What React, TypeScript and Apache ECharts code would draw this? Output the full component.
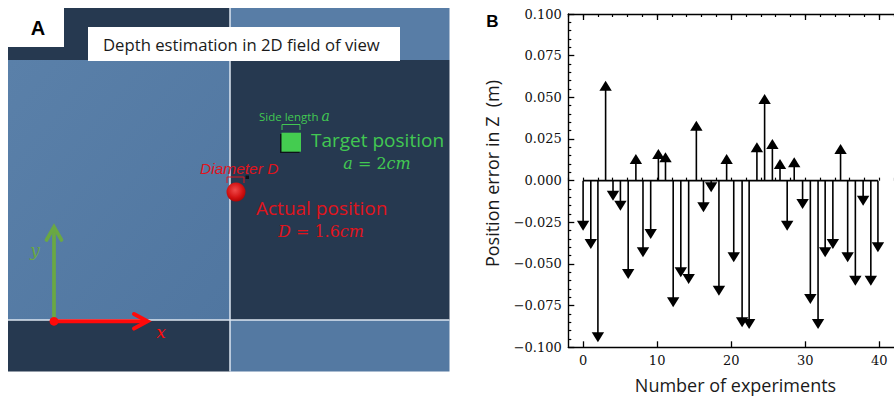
import React, { useEffect, useRef } from "react";
import * as echarts from "echarts";

// ---------- Panel B data ----------
const experimentX = [
  0, 1.04, 2.0, 3.04, 4.04, 5.04, 6.09, 7.13, 8.09, 9.13,
  10.17, 11.13, 12.17, 13.2, 14.26, 15.3, 16.26, 17.3, 18.35, 19.39,
  20.35, 21.48, 22.43, 23.48, 24.52, 25.57, 26.6, 27.57, 28.52, 29.65,
  30.7, 31.74, 32.7, 33.74, 34.78, 35.74, 36.78, 37.83, 38.87, 39.83,
];
const errorZ = [
  -0.027, -0.038, -0.094, 0.057, -0.009, -0.015, -0.056, 0.013, -0.043, -0.032,
  0.016, 0.014, -0.073, -0.055, -0.059, 0.033, -0.016, -0.004, -0.066, 0.013,
  -0.046, -0.085, -0.086, 0.02, 0.049, 0.022, 0.01, -0.027, 0.011, -0.014,
  -0.071, -0.086, -0.043, -0.038, 0.019, -0.046, -0.06, -0.012, -0.06, -0.04,
];
const xMajorTicks = [0, 10, 20, 30, 40];
const xRange = [-2, 42];
const yRange = [-0.1, 0.1];
const yStep = 0.025;
const xTitle = "Number of experiments";
const yTitle = "Position error in Z  (m)";

// ---------- Panel A texts ----------
const panelATitle = "Depth estimation in 2D field of view";
const targetLabel = "Target position";
const actualLabel = "Actual position";

const DARK = "#263950";
const MID = "#5479a2";
const GREEN = "#42c852";
const RED = "#e0141c";
const SANS = "'Open Sans', 'Noto Sans', sans-serif";
const SERIF = "'DejaVu Serif', serif";

export default function App() {
  const ref = useRef<HTMLDivElement>(null);
  useEffect(() => {
    if (!ref.current) return;
    const chart = echarts.init(ref.current, undefined, { renderer: "svg" });

    const midGrad = new echarts.graphic.LinearGradient(0, 0, 1, 1, [
      { offset: 0, color: "#5a80a9" },
      { offset: 1, color: "#5076a0" },
    ]);
    const sphereGrad = new echarts.graphic.RadialGradient(0.45, 0.4, 0.65, [
      { offset: 0, color: "#f04a4a" },
      { offset: 0.6, color: "#d41414" },
      { offset: 1, color: "#a80000" },
    ]);

    const graphic: any[] = [
      // background blocks
      { type: "rect", shape: { x: 8, y: 8, width: 222, height: 52 }, style: { fill: DARK }, silent: true },
      { type: "rect", shape: { x: 230, y: 8, width: 219.5, height: 52 }, style: { fill: "#587da6" }, silent: true },
      { type: "rect", shape: { x: 8, y: 60, width: 222, height: 260 }, style: { fill: midGrad }, silent: true },
      { type: "rect", shape: { x: 230, y: 60, width: 219.5, height: 260 }, style: { fill: DARK }, silent: true },
      { type: "rect", shape: { x: 8, y: 320, width: 222, height: 51.5 }, style: { fill: DARK }, silent: true },
      { type: "rect", shape: { x: 230, y: 320, width: 219.5, height: 51.5 }, style: { fill: MID }, silent: true },
      // white grid lines
      { type: "line", shape: { x1: 230, y1: 8, x2: 230, y2: 371.5 }, style: { stroke: "#dde6f0", lineWidth: 1.5 }, silent: true },
      { type: "line", shape: { x1: 8, y1: 320, x2: 449.5, y2: 320 }, style: { stroke: "#dde6f0", lineWidth: 1.5 }, silent: true },
      // A label box
      { type: "rect", shape: { x: 8, y: 8, width: 56, height: 39 }, style: { fill: "#ffffff" }, silent: true },
      { type: "text", x: 38, y: 28, style: { text: "A", font: "bold 20px 'Liberation Sans', Arial, sans-serif", fill: "#000", align: "center", verticalAlign: "middle" }, silent: true },
      // title box
      { type: "rect", shape: { x: 88, y: 27, width: 312, height: 34 }, style: { fill: "#ffffff" }, silent: true },
      { type: "text", x: 103, y: 44.5, style: { text: panelATitle, font: `16.7px ${SANS}`, fill: "#1a1a1a", align: "left", verticalAlign: "middle" }, silent: true },
      // target square
      { type: "polyline", shape: { points: [[282, 130], [282, 124.5], [300, 124.5], [300, 130]] }, style: { stroke: GREEN, lineWidth: 1, fill: "none" }, silent: true },
      { type: "rect", shape: { x: 280, y: 134, width: 19.5, height: 19 }, style: { fill: "#0d1218" }, silent: true },
      { type: "rect", shape: { x: 281.5, y: 132.7, width: 19.5, height: 19 }, style: { fill: "#44cc50" }, silent: true },
      { type: "text", x: 259, y: 116, style: { text: "Side length {i|a}", font: `11.5px ${SANS}`, fill: GREEN, align: "left", verticalAlign: "middle", rich: { i: { fontFamily: "'DejaVu Serif', serif", fontStyle: "italic", fontSize: 14, fill: GREEN } } }, silent: true },
      { type: "text", x: 311, y: 140, style: { text: targetLabel, font: `19px ${SANS}`, fill: GREEN, align: "left", verticalAlign: "middle" }, silent: true },
      { type: "text", x: 377, y: 163, style: { text: "{i|a} = 2{i|cm}", font: `16px ${SERIF}`, fill: GREEN, align: "center", verticalAlign: "middle", rich: { i: { fontFamily: "'DejaVu Serif', serif", fontStyle: "italic", fontSize: 16, fill: GREEN } } }, silent: true },
      // actual sphere
      { type: "polyline", shape: { points: [[227, 183], [227, 177], [244, 177], [244, 183]] }, style: { stroke: RED, lineWidth: 1, fill: "none" }, silent: true },
      { type: "rect", shape: { x: 245.5, y: 175.5, width: 3.5, height: 3.5 }, style: { fill: "#0d1218" }, silent: true },
      { type: "circle", shape: { cx: 236, cy: 192, r: 9.5 }, style: { fill: sphereGrad }, silent: true },
      { type: "text", x: 200, y: 168, style: { text: "Diameter D", font: `italic 15.5px 'Liberation Sans', Arial, sans-serif`, fill: RED, align: "left", verticalAlign: "middle" }, silent: true },
      { type: "text", x: 256, y: 208, style: { text: actualLabel, font: `19px ${SANS}`, fill: RED, align: "left", verticalAlign: "middle" }, silent: true },
      { type: "text", x: 321, y: 231, style: { text: "{i|D} = 1.6{i|cm}", font: `16px ${SERIF}`, fill: RED, align: "center", verticalAlign: "middle", rich: { i: { fontFamily: "'DejaVu Serif', serif", fontStyle: "italic", fontSize: 16, fill: RED } } }, silent: true },
      // coordinate arrows
      { type: "line", shape: { x1: 54, y1: 320, x2: 54, y2: 228 }, style: { stroke: "#6aa843", lineWidth: 3.7 }, silent: true },
      { type: "polyline", shape: { points: [[46.5, 240], [54, 227], [61.5, 240]] }, style: { stroke: "#6aa843", lineWidth: 3.7, lineCap: "round", lineJoin: "miter", fill: "none" }, silent: true },
      { type: "line", shape: { x1: 54, y1: 321.3, x2: 146, y2: 321.3 }, style: { stroke: "#ff0a0a", lineWidth: 4 }, silent: true },
      { type: "polyline", shape: { points: [[134, 314], [147.5, 321.3], [134, 328.6]] }, style: { stroke: "#ff0a0a", lineWidth: 4, lineCap: "round", lineJoin: "miter", fill: "none" }, silent: true },
      { type: "circle", shape: { cx: 54, cy: 321.3, r: 4.4 }, style: { fill: "#ff0a0a" }, silent: true },
      { type: "text", x: 35, y: 250, style: { text: "y", font: `italic 17px ${SERIF}`, fill: "#6aa843", align: "center", verticalAlign: "middle" }, silent: true },
      { type: "text", x: 161, y: 332, style: { text: "x", font: `italic 17px ${SERIF}`, fill: "#ff0a0a", align: "center", verticalAlign: "middle" }, silent: true },
      // Panel B label and axis titles
      { type: "text", x: 492.5, y: 21, style: { text: "B", font: "bold 17px 'Liberation Sans', Arial, sans-serif", fill: "#000", align: "center", verticalAlign: "middle" }, silent: true },
      { type: "text", x: 492, y: 173.5, rotation: Math.PI / 2, style: { text: yTitle, font: `18px ${SANS}`, fill: "#1a1a1a", align: "center", verticalAlign: "middle" }, silent: true },
      { type: "text", x: 735.5, y: 385, style: { text: xTitle, font: `18px ${SANS}`, fill: "#1a1a1a", align: "center", verticalAlign: "middle" }, silent: true },
    ];

    const axisLine = { show: true, onZero: false, lineStyle: { color: "#000", width: 1.4 } };
    const fmtY = (v: number) => (Math.abs(v) < 1e-9 ? "0.000" : (v < 0 ? "\u2212" : "") + Math.abs(v).toFixed(3));

    const option: any = {
      animation: false,
      backgroundColor: "#ffffff",
      graphic,
      grid: { left: 568.3, top: 14, right: -10.9, bottom: 48.7, containLabel: false },
      xAxis: [
        {
          type: "value", position: "bottom", min: xRange[0], max: xRange[1],
          axisLine, splitLine: { show: false },
          axisTick: { show: true, inside: true, length: 6, lineStyle: { color: "#000", width: 1.3 }, customValues: xMajorTicks },
          axisLabel: { show: true, margin: 7, color: "#111", fontFamily: SERIF, fontSize: 13, customValues: xMajorTicks },
        },
        {
          type: "value", position: "top", min: xRange[0], max: xRange[1],
          axisLine, splitLine: { show: false },
          axisTick: { show: true, inside: true, length: 6, lineStyle: { color: "#000", width: 1.3 }, customValues: xMajorTicks },
          axisLabel: { show: false },
        },
        {
          type: "value", position: "bottom", min: xRange[0], max: xRange[1], interval: 2,
          axisLine: { show: false }, splitLine: { show: false },
          axisTick: { show: true, inside: true, length: 3, lineStyle: { color: "#000", width: 1.2 } },
          axisLabel: { show: false },
        },
        {
          type: "value", position: "top", min: xRange[0], max: xRange[1], interval: 2,
          axisLine: { show: false }, splitLine: { show: false },
          axisTick: { show: true, inside: true, length: 3, lineStyle: { color: "#000", width: 1.2 } },
          axisLabel: { show: false },
        },
      ],
      yAxis: [
        {
          type: "value", position: "left", min: yRange[0], max: yRange[1], interval: yStep,
          axisLine, splitLine: { show: false },
          axisTick: { show: true, inside: true, length: 6, lineStyle: { color: "#000", width: 1.3 } },
          minorTick: { show: true, splitNumber: 5, length: 3, lineStyle: { color: "#000", width: 1.2 } },
          axisLabel: { show: true, margin: 6.5, color: "#111", fontFamily: SERIF, fontSize: 13, formatter: fmtY },
        },
      ],
      series: [
        {
          type: "line",
          xAxisIndex: 0, yAxisIndex: 0,
          data: [[experimentX[0], 0], [experimentX[experimentX.length - 1], 0]],
          symbol: "none",
          lineStyle: { color: "#000", width: 1.6 },
          silent: true,
        },
        {
          type: "custom",
          xAxisIndex: 0, yAxisIndex: 0,
          data: experimentX.map((x, i) => [x, errorZ[i]]),
          encode: { x: 0, y: 1 },
          silent: true,
          renderItem: (_p: any, api: any) => {
            const x = api.value(0);
            const y = api.value(1);
            const base = api.coord([x, 0]);
            const tip = api.coord([x, y]);
            const w = 6.2, h = 5;
            const up = y >= 0;
            const pts = up
              ? [[tip[0] - w, tip[1] + h], [tip[0] + w, tip[1] + h], [tip[0], tip[1] - h]]
              : [[tip[0] - w, tip[1] - h], [tip[0] + w, tip[1] - h], [tip[0], tip[1] + h]];
            return {
              type: "group",
              children: [
                { type: "line", shape: { x1: base[0], y1: base[1], x2: tip[0], y2: tip[1] }, style: { stroke: "#000", lineWidth: 1.6 } },
                { type: "polygon", shape: { points: pts }, style: { fill: "#000" } },
              ],
            };
          },
        },
      ],
    };
    chart.setOption(option);
    return () => chart.dispose();
  }, []);

  return (
    <div
      ref={ref}
      style={{ position: "absolute", left: 0, top: 0, width: 894, height: 396, background: "#fff" }}
    />
  );
}
